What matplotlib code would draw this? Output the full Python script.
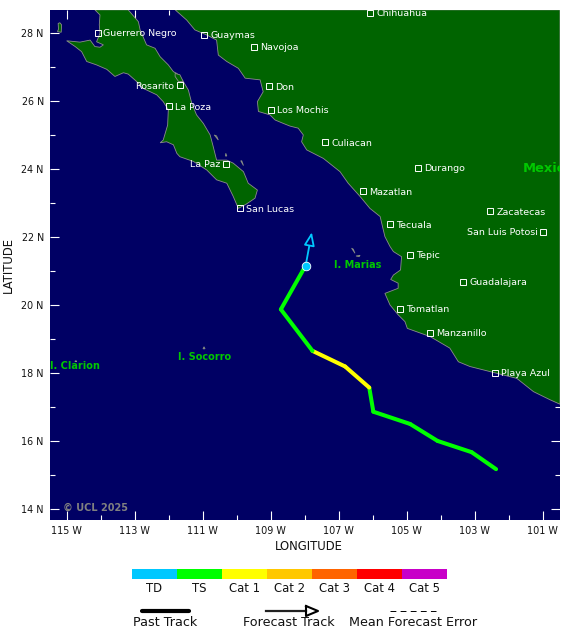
#coding:utf-8

import matplotlib
matplotlib.use('Agg')
import matplotlib.pyplot as plt
from matplotlib.lines import Line2D

W, H = 580, 639
NAVY = '#000064'
LAND = '#006400'
COAST = '#8c8c8c'
LABEL_GREEN = '#00c800'

baja_lon = [-114.17, -114.02, -114.04, -114.02, -114.12, -113.92, -114.02, -114.17, -114.31, -114.61,
            -115.00, -114.75, -114.56, -114.41, -114.12, -113.82, -113.58, -113.33, -113.19, -112.94,
            -112.75, -112.35, -112.16, -112.01, -112.03, -112.16, -112.25, -112.06, -111.86, -111.76,
            -111.67, -111.27, -110.88, -110.59, -110.29, -110.10, -109.95, -109.71, -109.46, -109.39,
            -109.66, -109.80, -110.10, -110.29, -110.59, -110.69, -110.78, -110.98, -111.18, -111.32,
            -111.42, -111.57, -111.76, -111.86, -112.01, -112.25, -112.40, -112.65, -112.84, -112.89,
            -113.19]
baja_lat = [28.69, 28.54, 28.25, 28.00, 27.75, 27.66, 27.59, 27.61, 27.80, 27.74,
            27.78, 27.61, 27.46, 27.17, 27.07, 26.94, 26.73, 26.84, 26.80, 26.58,
            26.38, 26.19, 25.99, 25.75, 25.30, 24.86, 24.78, 24.81, 24.72, 24.47,
            24.37, 24.23, 23.98, 23.69, 23.59, 23.20, 22.85, 22.98, 23.15, 23.39,
            23.59, 23.93, 24.18, 24.27, 24.27, 24.67, 25.01, 25.35, 25.60, 25.94,
            26.33, 26.58, 26.82, 26.87, 27.07, 27.31, 27.56, 27.66, 28.10, 28.34,
            28.69]

main_lon = [-111.81, -111.47, -111.23, -110.88, -110.59, -110.54, -110.29, -109.95, -109.75, -109.31,
            -109.22, -109.39, -109.36, -109.02, -108.87, -108.63, -108.43, -108.19, -108.04, -108.09,
            -107.94, -107.45, -106.96, -106.72, -106.37, -106.08, -105.78, -105.64, -105.49, -105.39,
            -105.15, -105.18, -105.39, -105.47, -105.25, -105.25, -105.64, -105.49, -105.25, -105.05,
            -104.98, -104.31, -103.73, -103.48, -103.14, -102.35, -101.76, -101.27, -100.78, -100.49,
            -100.49]
main_lat = [28.69, 28.39, 28.10, 27.95, 27.80, 27.36, 27.17, 26.97, 26.68, 26.63,
            26.28, 25.99, 25.70, 25.60, 25.45, 25.35, 25.27, 25.21, 25.01, 24.81,
            24.57, 24.32, 23.93, 23.59, 23.20, 22.85, 22.61, 22.02, 21.73, 21.58,
            21.43, 21.04, 20.89, 20.76, 20.65, 20.50, 20.35, 20.01, 19.72, 19.52,
            19.32, 19.08, 18.74, 18.34, 18.20, 18.00, 17.85, 17.46, 17.22, 17.09,
            28.69]

# small islands, lon list then lat list
islands = [
    ([-115.27, -115.16, -115.15, -115.20, -115.25, -115.24], [28.05, 28.03, 28.25, 28.31, 28.29, 28.12]),
    ([-110.66, -110.54, -110.59], [25.01, 24.86, 24.98]),
    ([-110.32, -110.29, -110.33], [24.47, 24.39, 24.39]),
    ([-109.88, -109.80, -109.85], [24.25, 24.11, 24.25]),
    ([-111.81, -111.67, -111.57, -111.71, -111.81], [26.82, 26.78, 26.58, 26.58, 26.73]),
    ([-106.62, -106.52, -106.57], [21.68, 21.53, 21.65]),
    ([-106.49, -106.37, -106.40], [21.45, 21.47, 21.43]),
    ([-110.99, -110.93, -110.96], [18.72, 18.72, 18.78]),
    ([-114.76, -114.70, -114.73], [18.35, 18.35, 18.37]),
]

# name, lon, lat, side of the label
cities = [
    ('Guerrero Negro', -114.09, 28.00, 'r'), ('Guaymas', -110.95, 27.96, 'r'),
    ('Navojoa', -109.48, 27.59, 'r'), ('Don', -109.04, 26.44, 'r'),
    ('Los Mochis', -108.98, 25.74, 'r'), ('Rosarito', -111.66, 26.47, 'l'),
    ('La Poza', -111.98, 25.85, 'r'), ('La Paz', -110.30, 24.16, 'l'),
    ('San Lucas', -109.89, 22.85, 'r'), ('Chihuahua', -106.07, 28.61, 'r'),
    ('Culiacan', -107.39, 24.79, 'r'), ('Durango', -104.66, 24.03, 'r'),
    ('Mazatlan', -106.27, 23.35, 'r'), ('Zacatecas', -102.54, 22.76, 'r'),
    ('San Luis Potosi', -100.98, 22.15, 'l'), ('Tecuala', -105.48, 22.38, 'r'),
    ('Tepic', -104.89, 21.49, 'r'), ('Guadalajara', -103.33, 20.68, 'r'),
    ('Tomatlan', -105.19, 19.89, 'r'), ('Manzanillo', -104.30, 19.19, 'r'),
    ('Playa Azul', -102.39, 18.00, 'r'),
]

track_lon = [-102.37, -103.09, -104.09, -104.90, -105.98, -106.10, -106.81, -107.77, -108.70, -107.97]
track_lat = [15.18, 15.68, 16.01, 16.51, 16.87, 17.58, 18.20, 18.66, 19.88, 21.17]
track_cat = ['TS', 'TS', 'TS', 'TS', 'TS', 'Cat 1', 'Cat 1', 'TS', 'TS']
forecast_lon = [-107.97, -107.79]
forecast_lat = [21.17, 22.15]

categories = ['TD', 'TS', 'Cat 1', 'Cat 2', 'Cat 3', 'Cat 4', 'Cat 5']
cat_colors = ['#00c8ff', '#00ff00', '#ffff00', '#ffc800', '#ff6400', '#ff0000', '#c800c8']
colors = dict(zip(categories, cat_colors))

lon_major = [-115, -113, -111, -109, -107, -105, -103, -101]
lon_minor = [-114, -112, -110, -108, -106, -104, -102]
lat_major = [14, 16, 18, 20, 22, 24, 26, 28]
lat_minor = [15, 17, 19, 21, 23, 25, 27]

fig = plt.figure(figsize=(W / 100, H / 100), dpi=100, facecolor='white')
ax = fig.add_axes([50 / W, (H - 520) / H, 510 / W, 510 / H], facecolor=NAVY)
ax.set_xlim(-115.49, -100.49)
ax.set_ylim(13.685, 28.685)

ax.fill(baja_lon, baja_lat, facecolor=LAND, edgecolor=COAST, linewidth=0.6, zorder=2)
ax.fill(main_lon, main_lat, facecolor=LAND, edgecolor=COAST, linewidth=0.6, zorder=2)
for lons, lats in islands:
    ax.fill(lons, lats, facecolor=LAND, edgecolor=COAST, linewidth=0.6, zorder=2)

for name, lon, lat, side in cities:
    ax.plot(lon, lat, 's', ms=4.7, mfc='none', mec='white', mew=0.7, zorder=4)
    off = 4.2 if side == 'r' else -4.2
    ax.annotate(name, (lon, lat), xytext=(off, -0.5), textcoords='offset points', color='white',
                fontsize=6.8, va='center', ha='left' if side == 'r' else 'right', zorder=4,
                annotation_clip=False)

ax.text(-110.95, 18.49, 'I. Socorro', color=LABEL_GREEN, fontsize=7, fontweight='bold', ha='center', va='center', zorder=4)
ax.text(-114.76, 18.20, 'I. Clarion', color=LABEL_GREEN, fontsize=7, fontweight='bold', ha='center', va='center', zorder=4)
ax.text(-106.43, 21.19, 'I. Marias', color=LABEL_GREEN, fontsize=7, fontweight='bold', ha='center', va='center', zorder=4)
ax.text(-101.6, 24.03, 'Mexico', color=LABEL_GREEN, fontsize=9.4, fontweight='bold', ha='left', va='center', zorder=4, clip_on=True)
ax.text(-115.11, 14.04, '© UCL 2025', color='#808080', fontsize=7, fontweight='bold', ha='left', va='center', zorder=4)

for i, cat in enumerate(track_cat):
    ax.plot(track_lon[i:i + 2], track_lat[i:i + 2], color=colors[cat], lw=2.9,
            solid_capstyle='round', zorder=5)

ax.annotate('', xy=(forecast_lon[1], forecast_lat[1]), xytext=(forecast_lon[0], forecast_lat[0]),
            arrowprops=dict(arrowstyle='-|>,head_length=0.8,head_width=0.32', fc=NAVY, ec=colors['TD'],
                            lw=1.3, shrinkA=0, shrinkB=0), zorder=6)
ax.plot(forecast_lon[0], forecast_lat[0], 'o', ms=6.2, mfc=colors['TD'], mec='white', mew=0.6, zorder=7)

ax.set_xticks(lon_major)
ax.set_xticks(lon_minor, minor=True)
ax.set_yticks(lat_major)
ax.set_yticks(lat_minor, minor=True)
ax.set_xticklabels([f'{-v} W' for v in lon_major], fontsize=6.9, color='#111111')
ax.set_yticklabels([f'{v} N' for v in lat_major], fontsize=6.9, color='#111111')
ax.tick_params(which='major', direction='in', length=6.5, width=0.8, color='white',
               top=True, right=True, pad=4.5, zorder=8)
ax.tick_params(which='minor', direction='in', length=3.6, width=0.8, color='white', top=True, right=True)
for spine in ax.spines.values():
    spine.set_visible(False)

fig.text(309 / W, 1 - 546 / H, 'LONGITUDE', fontsize=8.4, ha='center', va='center', color='#111111')
fig.text(8 / W, 1 - 265 / H, 'LATITUDE', fontsize=8.4, ha='center', va='center', rotation=90, color='#111111')

# category colour bar
bar = fig.add_axes([132 / W, 1 - 579 / H, 315 / W, 10 / H])
bar.bar(range(len(categories)), [1] * len(categories), width=1, color=cat_colors)
bar.set_xlim(-0.5, len(categories) - 0.5)
bar.set_ylim(0, 1)
bar.set_yticks([])
bar.set_xticks(range(len(categories)))
bar.set_xticklabels(categories, fontsize=8.4, color='#111111')
bar.tick_params(axis='x', length=0, pad=2.5)
for spine in bar.spines.values():
    spine.set_visible(False)

# track key
fig.add_artist(Line2D([142 / W, 189 / W], [1 - 611 / H] * 2, color='black', lw=3, solid_capstyle='round'))
fig.add_artist(Line2D([266 / W, 306 / W], [1 - 611 / H] * 2, color='#222222', lw=1.6))
fig.add_artist(Line2D([306 / W, 318 / W, 306 / W, 306 / W], [1 - 606 / H, 1 - 611 / H, 1 - 616 / H, 1 - 606 / H],
                      color='black', lw=1.5))
fig.add_artist(Line2D([390 / W, 436 / W], [1 - 611 / H] * 2, color='black', lw=0.7, dashes=(6, 4.4)))
fig.text(165 / W, 1 - 623 / H, 'Past Track', fontsize=9.2, ha='center', va='center', color='#111111')
fig.text(288.5 / W, 1 - 623 / H, 'Forecast Track', fontsize=9.2, ha='center', va='center', color='#111111')
fig.text(413 / W, 1 - 623 / H, 'Mean Forecast Error', fontsize=9.2, ha='center', va='center', color='#111111')

fig.savefig('out.png', dpi=100)
